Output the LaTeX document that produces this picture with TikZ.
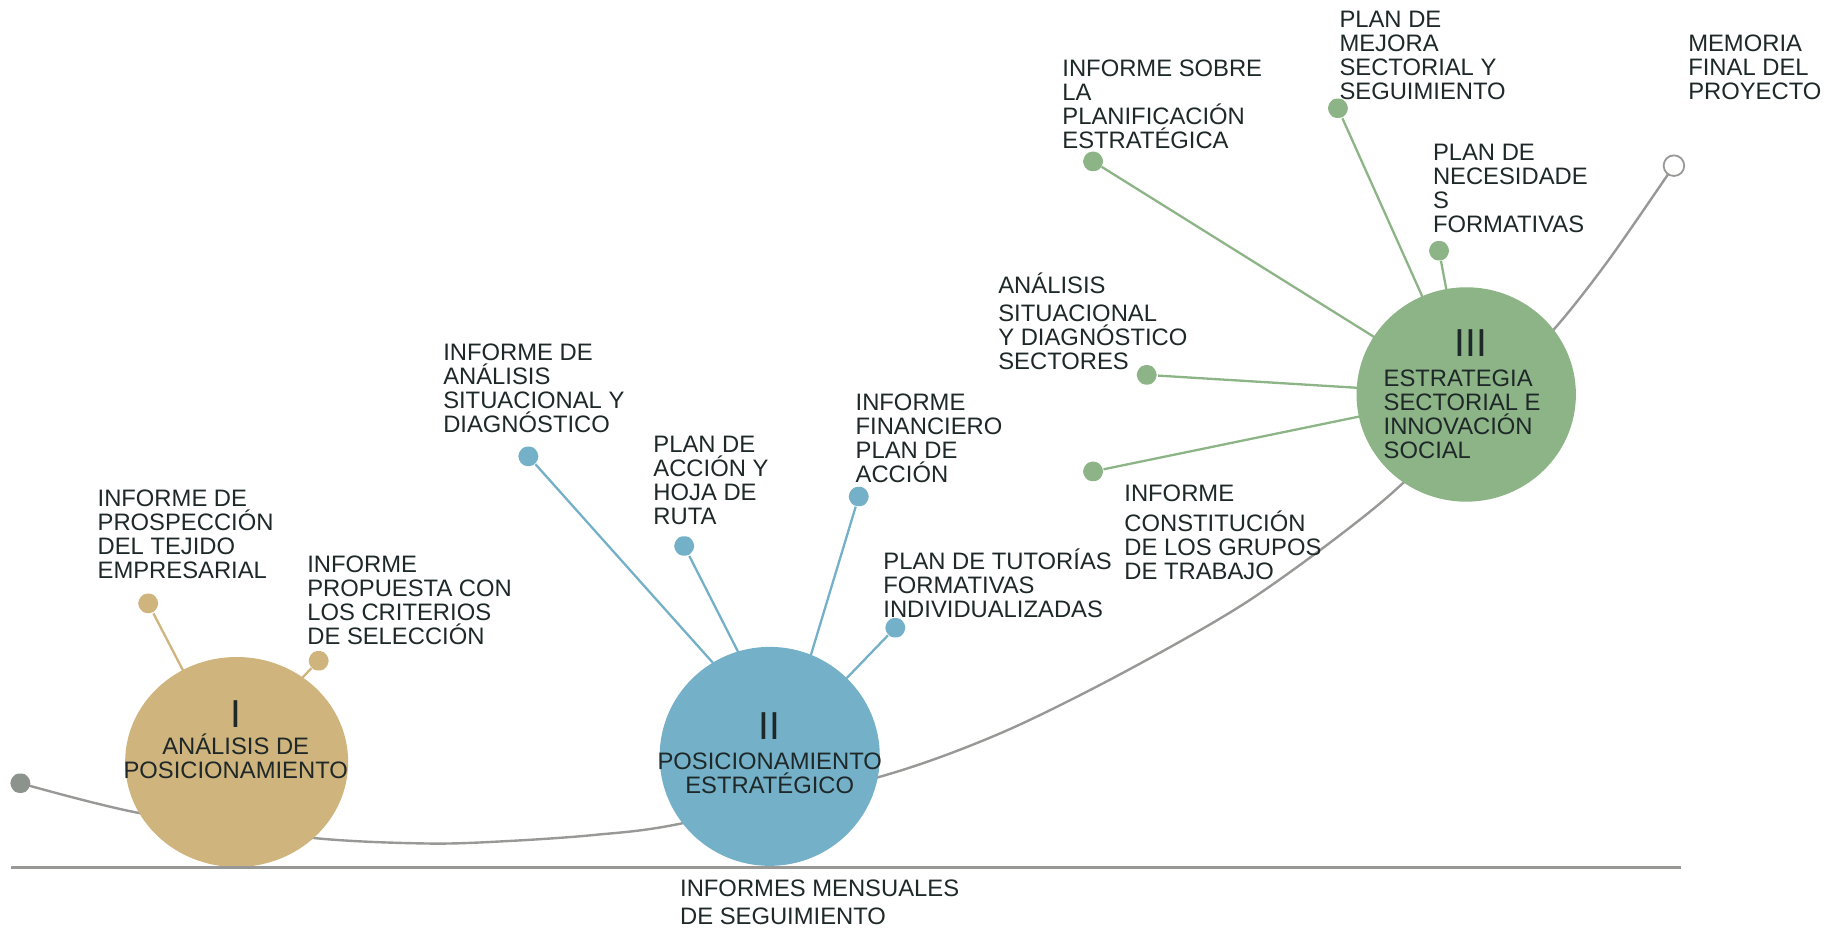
\documentclass[tikz,border=0pt]{standalone}
\usepackage{fontspec}
\setmainfont{Liberation Sans}
\usetikzlibrary{shapes.geometric}
\definecolor{tanc}{RGB}{207,180,125}
\definecolor{bluec}{RGB}{116,176,200}
\definecolor{greenc}{RGB}{141,180,135}
\definecolor{grayc}{RGB}{152,152,150}
\definecolor{dotgray}{RGB}{140,146,140}
\definecolor{txt}{RGB}{30,40,40}
\newcommand\tstrut{\rule{0pt}{1em}}
\pgfdeclarelayer{bg}
\pgfsetlayers{bg,main}
\tikzset{
  lbl/.style={anchor=north west, inner sep=0pt, align=left, text=txt,
    font={\fontsize{11.9}{12}\selectfont\lineskiplimit-100pt\relax}, yshift=3.4pt},
  ctr/.style={anchor=north, inner sep=0pt, align=center, text=txt,
    font={\fontsize{11.9}{12}\selectfont\lineskiplimit-100pt\relax}, yshift=3.4pt},
  roman/.style={inner sep=0pt, text=txt, font={\fontsize{19.5}{20}\selectfont}},
  dotn/.style={regular polygon, regular polygon sides=6, minimum size=11.2pt,
    inner sep=0pt, rounded corners=2pt, fill=#1, draw=none},
  conn/.style={line width=1.15pt, draw=#1},
  bigc/.style={ellipse, inner sep=0pt, fill=#1, draw=none},
  curveline/.style={line width=1.2pt, draw=grayc},
  baseln/.style={line width=1.4pt, draw=grayc},
}
\begin{document}
\begin{tikzpicture}[x=0.5858pt, y=-0.5858pt]
\useasboundingbox (0,0) rectangle (1568,794);

% phase circles
\node[bigc=tanc, minimum width=111.5pt, minimum height=105pt] (c1) at (202,650.4) {};
\node[bigc=bluec, minimum width=110.1pt, minimum height=109.5pt] (c2) at (657,645.6) {};
\node[bigc=greenc, minimum width=109.7pt, minimum height=107.2pt] (c3) at (1251.5,336.7) {};

% origins of the spokes (hidden behind the circles)
\coordinate (o1) at (194,645);
\coordinate (o2) at (669.5,634);

% dots
\node[dotn=dotgray] (d0) at (17.4,668.5) {};
\node[dotn=tanc] (d1) at (126.5,515) {};
\node[dotn=tanc] (d2) at (272,564) {};
\node[dotn=bluec] (d3) at (451,389.5) {};
\node[dotn=bluec] (d4) at (584,466) {};
\node[dotn=bluec] (d5) at (733,423.8) {};
\node[dotn=bluec] (d6) at (764.2,535.8) {};
\node[dotn=greenc] (d7) at (978.8,320) {};
\node[dotn=greenc] (d8) at (933,402.4) {};
\node[dotn=greenc] (d9) at (933,137.8) {};
\node[dotn=greenc] (d10) at (1142,92.4) {};
\node[dotn=greenc] (d11) at (1228.3,214) {};
\node[circle, draw=grayc, fill=white, line width=0.9pt, minimum size=10.3pt, inner sep=0pt] (d12) at (1428.8,141.4) {};

% connectors behind
\begin{pgfonlayer}{bg}
\draw[curveline] plot[smooth] coordinates {(d0) (119,694) (265,715) (366,720) (435,717.8) (507,712.7) (581,703) (751,663) (853.6,626) (956,575.6) (1067,512) (1178,429.6) (1262,349) (1326.5,281) (1373,222) (d12)};
\draw[conn=tanc] (d1) -- (o1);
\draw[conn=tanc] (d2) -- (o1);
\draw[conn=bluec] (d3) -- (o2);
\draw[conn=bluec] (d4) -- (o2);
\draw[conn=bluec] (d5) -- (o2);
\draw[conn=bluec] (d6) -- (o2);
\draw[conn=greenc] (d7) -- (c3.center);
\draw[conn=greenc] (d8) -- (c3.center);
\draw[conn=greenc] (d9) -- (c3.center);
\draw[conn=greenc] (d10) -- (c3.center);
\draw[conn=greenc] (d11) -- (c3.center);
\end{pgfonlayer}

% baseline
\coordinate (bl) at (9.8,740.3);
\coordinate (br) at (1435,740.3);
\draw[baseln] (bl) -- (br);

% circle texts
\node[roman] (r1) at (201.2,609.5) {I};
\node[ctr] (k1) at (201.2,628.8) {\tstrut ANÁLISIS DE\\POSICIONAMIENTO};
\node[roman] (r2) at (656.8,620) {II};
\node[ctr] (k2) at (657,641.8) {\tstrut POSICIONAMIENTO\\ESTRATÉGICO};
\node[roman] (r3) at (1255.6,293.2) {III};
\node[lbl] (k3) at (1180.7,315.2) {\tstrut ESTRATEGIA\\SECTORIAL E\\INNOVACIÓN\\SOCIAL};

% labels
\node[lbl] (t1) at (83,417.5) {\tstrut INFORME DE\\PROSPECCIÓN\\DEL TEJIDO\\EMPRESARIAL};
\node[lbl] (t2) at (262,473.7) {\tstrut INFORME\\PROPUESTA CON\\LOS CRITERIOS\\DE SELECCIÓN};
\node[lbl] (t3) at (378,293) {\tstrut INFORME DE\\ANÁLISIS\\SITUACIONAL Y\\DIAGNÓSTICO};
\node[lbl] (t4) at (557.4,371.4) {\tstrut PLAN DE\\ACCIÓN Y\\HOJA DE\\RUTA};
\node[lbl] (t5) at (730,335.5) {\tstrut INFORME\\FINANCIERO\\PLAN DE\\ACCIÓN};
\node[lbl] (t6) at (753.7,471) {\tstrut PLAN DE TUTORÍAS\\FORMATIVAS\\INDIVIDUALIZADAS};
\node[lbl] (t7) at (851.8,235.8) {\tstrut ANÁLISIS\\[1.7pt]SITUACIONAL\\Y DIAGNÓSTICO\\SECTORES};
\node[lbl] (t8) at (959.4,413.3) {\tstrut INFORME\\[3pt]CONSTITUCIÓN\\DE LOS GRUPOS\\DE TRABAJO};
\node[lbl] (t9) at (906.5,50.6) {\tstrut INFORME SOBRE\\LA\\PLANIFICACIÓN\\ESTRATÉGICA};
\node[lbl] (t10) at (1143,8.2) {\tstrut PLAN DE\\MEJORA\\SECTORIAL Y\\SEGUIMIENTO};
\node[lbl] (t11) at (1222.8,122.5) {\tstrut PLAN DE\\NECESIDADE\\S\\FORMATIVAS};
\node[lbl] (t12) at (1440.7,29.4) {\tstrut MEMORIA\\FINAL DEL\\PROYECTO};
\node[lbl] (t13) at (580.2,750) {\tstrut INFORMES MENSUALES\\[2pt]DE SEGUIMIENTO};
\end{tikzpicture}
\end{document}
